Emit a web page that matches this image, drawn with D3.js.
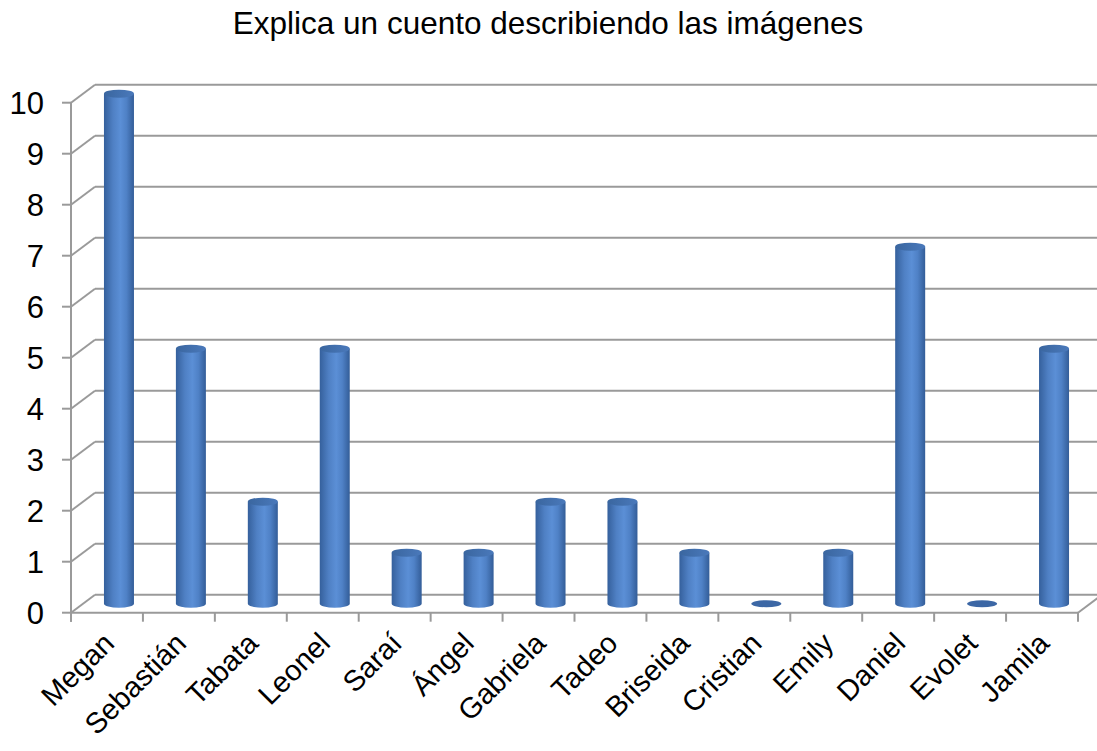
<!DOCTYPE html>
<html><head><meta charset="utf-8">
<script src="https://cdn.jsdelivr.net/npm/d3@7/dist/d3.min.js"></script>
<style>body{margin:0;background:#fff}svg{display:block}</style>
</head><body>
<svg id="c" width="1097" height="751"></svg>
<script>
const title = "Explica un cuento describiendo las imágenes";
const categories = ["Megan","Sebastián","Tabata","Leonel","Saraí","Ángel","Gabriela","Tadeo","Briseida","Cristian","Emily","Daniel","Evolet","Jamila"];
const values = [10,5,2,5,1,1,2,2,1,0,1,7,0,5];
const yTicks = [0,1,2,3,4,5,6,7,8,9,10];

const svg = d3.select("#c");
const W = 1097, H = 751;
const font = "'Liberation Sans', Arial, sans-serif";
const dx = 24, dy = -18; // depth offset
const x = d3.scaleBand().domain(categories).range([71, 1078]).padding(0);
const y = d3.scaleLinear().domain([0, 10]).range([612.7, 102.7]);
const grid = "#9a9a9a";

const defs = svg.append("defs");
const g1 = defs.append("linearGradient").attr("id","cyl").attr("x1","0").attr("x2","1").attr("y1","0").attr("y2","0");
[["0%","#35609c"],["30%","#4f80c4"],["55%","#5b8fd6"],["75%","#4f81c6"],["100%","#335d98"]].forEach(s=>g1.append("stop").attr("offset",s[0]).attr("stop-color",s[1]));
const g2 = defs.append("linearGradient").attr("id","top").attr("x1","0").attr("x2","1").attr("y1","0").attr("y2","0");
[["0%","#3a669f"],["100%","#4a79bb"]].forEach(s=>g2.append("stop").attr("offset",s[0]).attr("stop-color",s[1]));

const gl = svg.append("g").attr("stroke", grid).attr("stroke-width", 2).attr("fill","none");
yTicks.forEach(t => {
  gl.append("line").attr("x1", x.range()[0]+dx).attr("x2", W+10).attr("y1", y(t)+dy).attr("y2", y(t)+dy);
  gl.append("line").attr("x1", x.range()[0]).attr("x2", x.range()[0]+dx).attr("y1", y(t)).attr("y2", y(t)+dy);
});
gl.append("line").attr("x1", x.range()[0]).attr("x2", x.range()[1]).attr("y1", y(0)).attr("y2", y(0));
gl.append("line").attr("x1", x.range()[1]).attr("x2", x.range()[1]+dx).attr("y1", y(0)).attr("y2", y(0)+dy);
gl.append("line").attr("x1", x.range()[0]).attr("x2", x.range()[0]).attr("y1", y(10)).attr("y2", y(0)+9);
yTicks.forEach(t => gl.append("line").attr("x1", 62).attr("x2", x.range()[0]).attr("y1", y(t)).attr("y2", y(t)));
const bounds = categories.map(c => x(c)).concat([x.range()[1]]);
bounds.forEach(b => gl.append("line").attr("x1", b).attr("x2", b).attr("y1", y(0)).attr("y2", y(0)+9));

const rx = 15, ry = 4;
const bars = svg.append("g");
categories.forEach((c, i) => {
  const v = values[i];
  const cx = x(c) + x.bandwidth()/2 + dx/2;
  const yb = y(0) + dy/2, yt = y(v) + dy/2;
  if (v === 0) {
    bars.append("ellipse").attr("cx", cx).attr("cy", yb).attr("rx", rx).attr("ry", 3.5).attr("fill", "#3c67a5");
    return;
  }
  bars.append("path")
    .attr("d", `M${cx-rx},${yt} L${cx-rx},${yb} A${rx},${ry} 0 0 0 ${cx+rx},${yb} L${cx+rx},${yt} Z`)
    .attr("fill", "url(#cyl)");
  bars.append("ellipse").attr("cx", cx).attr("cy", yt).attr("rx", rx).attr("ry", ry).attr("fill", "url(#top)");
});

svg.append("g").selectAll("text").data(yTicks).join("text")
  .attr("x", 44).attr("y", d => y(d)).attr("dy", "0.36em")
  .attr("text-anchor", "end").attr("font-family", font).attr("font-size", 31).attr("fill", "#000")
  .text(d => d);

svg.append("g").selectAll("text").data(categories).join("text")
  .attr("transform", d => `translate(${x(d)+x.bandwidth()/2+9},${645}) rotate(-45)`)
  .attr("text-anchor", "end").attr("font-family", font).attr("font-size", 29).attr("fill", "#000")
  .text(d => d);

svg.append("text").attr("x", 548).attr("y", 34).attr("text-anchor", "middle")
  .attr("font-family", font).attr("font-size", 31.5).attr("fill", "#000").text(title);
</script>
</body></html>
